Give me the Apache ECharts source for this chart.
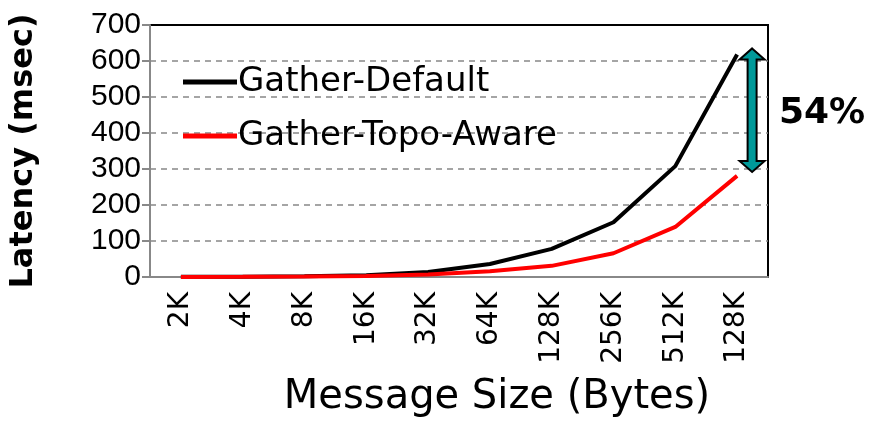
<!DOCTYPE html>
<html>
<head>
<meta charset="utf-8">
<style>
  html, body { margin: 0; padding: 0; background: #fff; }
  #chart { width: 870px; height: 425px; }
</style>
</head>
<body>
<div id="chart"></div>
<script src="https://cdn.jsdelivr.net/npm/echarts@6/dist/echarts.min.js"></script>
<script>
// data
var sizes = ['2K', '4K', '8K', '16K', '32K', '64K', '128K', '256K', '512K', '128K'];
var gatherDefault = [0.5, 1, 2, 5, 14, 36, 78, 152, 308, 618];
var gatherTopo = [0.3, 0.6, 1.2, 2.5, 7, 16, 31, 66, 139, 281];
var gapTop = 635, gapBottom = 292;   // ends of the 54% arrow
var gapLabel = '54%';

var comic = '"Comic Sans MS", "DejaVu Sans", sans-serif';
var chart = echarts.init(document.getElementById('chart'));

chart.setOption({
    animation: false,
    backgroundColor: '#fff',
    grid: {
        left: 147, right: 102, top: 25, bottom: 148,
        show: true, borderColor: '#000', borderWidth: 2
    },
    legend: {
        orient: 'vertical',
        left: 178, top: 60,
        itemWidth: 54, itemHeight: 5, itemGap: 20,
        icon: 'rect',
        textStyle: { fontFamily: comic, fontSize: 34, color: '#000', padding: [0, 0, 0, -4] },
        data: ['Gather-Default', 'Gather-Topo-Aware']
    },
    xAxis: {
        type: 'category',
        data: sizes,
        boundaryGap: true,
        name: 'Message Size (Bytes)',
        nameLocation: 'middle',
        nameGap: 101,
        nameTextStyle: { fontFamily: comic, fontSize: 40, color: '#000', padding: [0, 0, 0, 76] },
        axisLine: { lineStyle: { color: '#888', width: 2 } },
        axisTick: { length: 10, lineStyle: { color: '#888', width: 2 } },
        axisLabel: { rotate: 90, fontFamily: comic, fontSize: 28, color: '#000', margin: 15 }
    },
    yAxis: {
        type: 'value',
        min: 0, max: 700, interval: 100,
        name: 'Latency (msec)',
        nameLocation: 'middle',
        nameGap: 110,
        nameTextStyle: { fontFamily: comic, fontSize: 32, fontWeight: 'bold', color: '#000' },
        axisLine: { show: true, lineStyle: { color: '#888', width: 2 } },
        axisTick: { show: true, length: 8, lineStyle: { color: '#888', width: 2 } },
        axisLabel: { fontFamily: '"Liberation Sans", sans-serif', fontSize: 30, color: '#000', margin: 9 },
        splitLine: {
            showMinLine: false, showMaxLine: false,
            lineStyle: { color: '#888', type: [6, 5], width: 1.5 }
        }
    },
    series: [
        {
            name: 'Gather-Default', type: 'line', data: gatherDefault,
            symbol: 'none', lineStyle: { color: '#000', width: 4 }, itemStyle: { color: '#000' }
        },
        {
            name: 'Gather-Topo-Aware', type: 'line', data: gatherTopo,
            symbol: 'none', lineStyle: { color: '#ff0000', width: 4 }, itemStyle: { color: '#ff0000' }
        }
    ]
});

// double arrow showing the gap at the last point
var lastX = chart.convertToPixel({ xAxisIndex: 0 }, sizes.length - 1);
var cx = lastX + 15;
var yTop = chart.convertToPixel({ yAxisIndex: 0 }, gapTop);
var yBot = chart.convertToPixel({ yAxisIndex: 0 }, gapBottom);
var hw = 12.5, sw = 4.5, hh = 11;
var pts = [
    [cx, yTop], [cx + hw, yTop + hh], [cx + sw, yTop + hh],
    [cx + sw, yBot - hh], [cx + hw, yBot - hh], [cx, yBot],
    [cx - hw, yBot - hh], [cx - sw, yBot - hh], [cx - sw, yTop + hh],
    [cx - hw, yTop + hh]
];
chart.setOption({
    graphic: [
        {
            type: 'polygon', shape: { points: pts },
            style: { fill: '#009999', stroke: '#000', lineWidth: 2 }, z: 100
        },
        {
            type: 'text', left: 779, top: (yTop + yBot) / 2 - 14,
            style: { text: gapLabel, fontFamily: comic, fontSize: 36, fontWeight: 'bold', fill: '#000' }, z: 100
        }
    ]
});
</script>
</body>
</html>
